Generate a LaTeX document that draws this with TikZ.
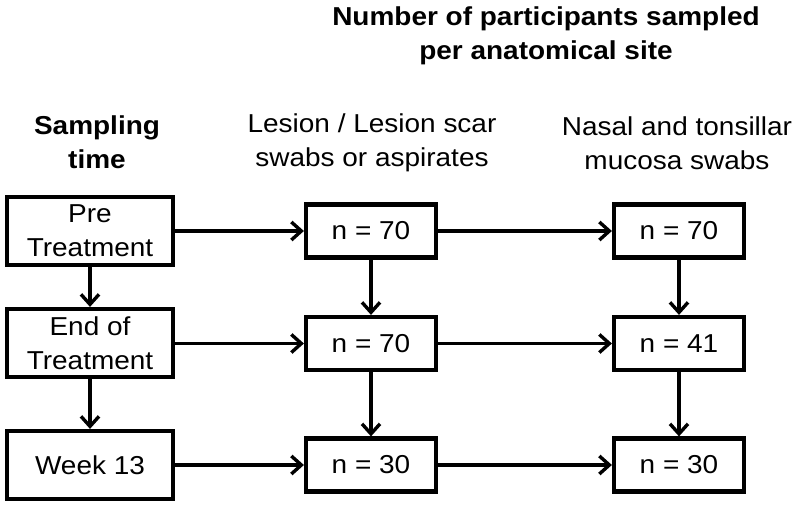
\documentclass[tikz,border=0pt]{standalone}
\usepackage{fontspec}
\setmainfont{Liberation Sans}[FakeStretch=1.08]
\usetikzlibrary{arrows.meta}
\begin{document}
\begin{tikzpicture}[x=1bp,y=-1bp,
  txt/.style={align=center, inner sep=0pt, font=\fontsize{26}{34}\selectfont},
  hdr/.style={txt, font=\fontsize{26}{34}\selectfont},
  boldhdr/.style={txt, font=\fontsize{26}{34}\selectfont\bfseries},
  lbox/.style={txt, draw, line width=4.2bp, minimum width=166bp, minimum height=68bp},
  nbox/.style={txt, draw, line width=4.2bp, minimum width=130bp, minimum height=53bp},
  arr/.style={line width=3.4bp, -{Straight Barb[length=10bp,width=18bp]}}]
\useasboundingbox (0,0) rectangle (800,507);
% headers
\node[boldhdr, anchor=center] (title) at (546,36) {Number of participants sampled\\per anatomical site};
\node[boldhdr, anchor=center] (stime) at (97,142) {Sampling\\time};
\node[hdr, anchor=center] (lesion) at (372,143) {Lesion / Lesion scar\\swabs or aspirates};
\node[hdr, anchor=center] (nasal) at (677,143) {Nasal and tonsillar\\mucosa swabs};
% left column
\node[lbox] (pre) at (90,231) {Pre\\Treatment};
\node[lbox] (end) at (90,343) {End of\\Treatment};
\node[lbox] (wk) at (90,465) {Week 13};
% middle column
\node[nbox] (m1) at (371,231) {n = 70};
\node[nbox] (m2) at (371,343.5) {n = 70};
\node[nbox] (m3) at (371,465) {n = 30};
% right column
\node[nbox] (r1) at (679,231) {n = 70};
\node[nbox] (r2) at (679,343.5) {n = 41};
\node[nbox] (r3) at (679,465) {n = 30};
% arrows
\draw[arr] (pre) -- (end);
\draw[arr] (end) -- (wk);
\draw[arr] (m1) -- (m2);
\draw[arr] (m2) -- (m3);
\draw[arr] (r1) -- (r2);
\draw[arr] (r2) -- (r3);
\draw[arr] (pre.east |- m1) -- (m1.west);
\draw[arr] (end.east |- m2) -- (m2.west);
\draw[arr] (wk.east |- m3) -- (m3.west);
\draw[arr] (m1) -- (r1);
\draw[arr] (m2) -- (r2);
\draw[arr] (m3) -- (r3);
\end{tikzpicture}
\end{document}
